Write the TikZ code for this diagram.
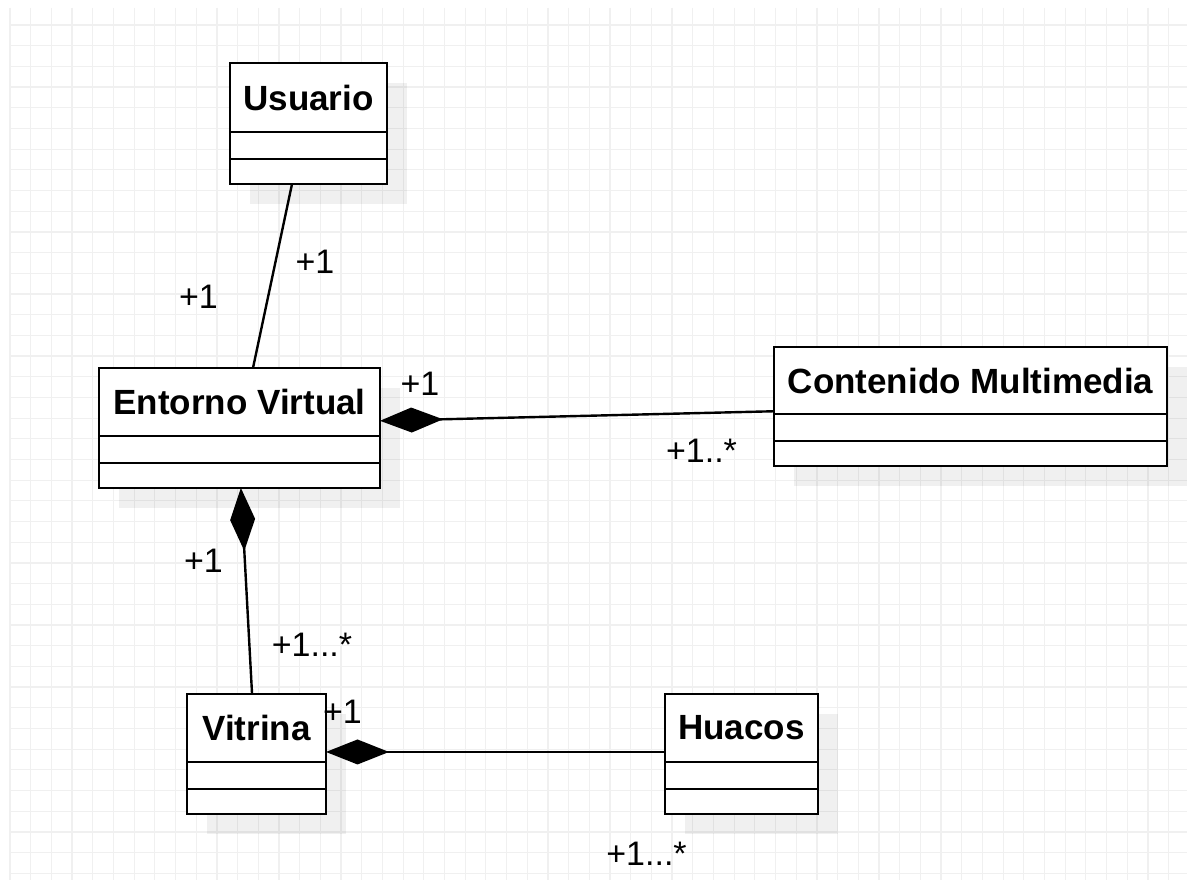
\documentclass[tikz,border=0pt]{standalone}
\usepackage{fontspec}
\setmainfont{Liberation Sans}
\usetikzlibrary{arrows.meta,calc}
\definecolor{gridc}{RGB}{240,240,240}
\tikzset{
  boxline/.style={line width=2.6pt, draw=black},
  umlbox/.style={boxline, fill=white, inner sep=0pt, outer sep=0pt},
  boxshadow/.style={fill=black, opacity=0.06},
  titletext/.style={font=\bfseries\fontsize{35}{42}\selectfont, inner sep=0pt},
  multlabel/.style={font=\fontsize{34}{40}\selectfont, inner sep=0pt, anchor=base},
  assoc/.style={line width=2.4pt, draw=black},
  compo/.style={assoc, -{Diamond[length=63pt,width=25pt]}},
}
% #1 name, #2 x1, #3 y1, #4 x2, #5 y2, #6 divider1, #7 divider2, #8 title
\newcommand\umlclassbox[8]{%
  \fill[boxshadow] (#2+20,#3+20) rectangle (#4+20,#5+20);
  \node[umlbox, minimum width={(#4-#2)*1pt}, minimum height={(#5-#3)*1pt}]
    (#1) at ({(#2+#4)/2},{(#3+#5)/2}) {};
  \node[titletext] (#1-title) at ({(#2+#4)/2},{(#3+#6)/2}) {#8};
  \draw[boxline] (#2,#6) -- (#4,#6);
  \draw[boxline] (#2,#7) -- (#4,#7);
}
\begin{document}
\begin{tikzpicture}[x=1pt,y=-1pt]
\useasboundingbox (0,0) rectangle (1199,880);
\fill[white] (0,0) rectangle (1199,880);
% grid
\foreach \k in {0,...,56} {
  \draw[gridc, line width=1.2pt] ({10+\k*20.69},8) -- ({10+\k*20.69},880);
}
\foreach \k in {0,...,41} {
  \draw[gridc, line width=1.2pt] (9,{25+\k*20.69}) -- (1187,{25+\k*20.69});
}
% classes
\umlclassbox{usuario}{230}{63}{387}{184}{132}{159}{Usuario}
\umlclassbox{entorno}{99}{368}{380}{488}{436}{463}{Entorno Virtual}
\umlclassbox{contenido}{774}{347}{1167}{466}{414}{441}{Contenido Multimedia}
\umlclassbox{vitrina}{187}{694}{326}{814}{762}{789}{Vitrina}
\umlclassbox{huacos}{665}{694}{818}{814}{762}{789}{Huacos}
% connector end points
\coordinate (uS) at ($(usuario.south west)!0.395!(usuario.south east)$);
\coordinate (eN) at ($(entorno.north west)!0.548!(entorno.north east)$);
\coordinate (eE) at ($(entorno.north east)!0.44!(entorno.south east)$);
\coordinate (eS) at ($(entorno.south west)!0.505!(entorno.south east)$);
\coordinate (cW) at ($(contenido.north west)!0.54!(contenido.south west)$);
\coordinate (vN) at ($(vitrina.north west)!0.468!(vitrina.north east)$);
\coordinate (vE) at ($(vitrina.north east)!0.483!(vitrina.south east)$);
\coordinate (hW) at ($(huacos.north west)!0.483!(huacos.south west)$);
% connectors
\draw[assoc] (uS) -- (eN);
\draw[compo] (cW) -- (eE);
\draw[compo] (vN) -- (eS);
\draw[compo] (hW) -- (vE);
% multiplicities
\node[multlabel] (m1) at (315,273) {+1};
\node[multlabel] (m2) at (198.5,308) {+1};
\node[multlabel] (m3) at (420,395) {+1};
\node[multlabel] (m4) at (701.5,462) {+1..*};
\node[multlabel] (m5) at (203.5,572) {+1};
\node[multlabel] (m6) at (312,656) {+1...*};
\node[multlabel] (m7) at (342.5,723) {+1};
\node[multlabel] (m8) at (646.5,865) {+1...*};
\end{tikzpicture}
\end{document}
